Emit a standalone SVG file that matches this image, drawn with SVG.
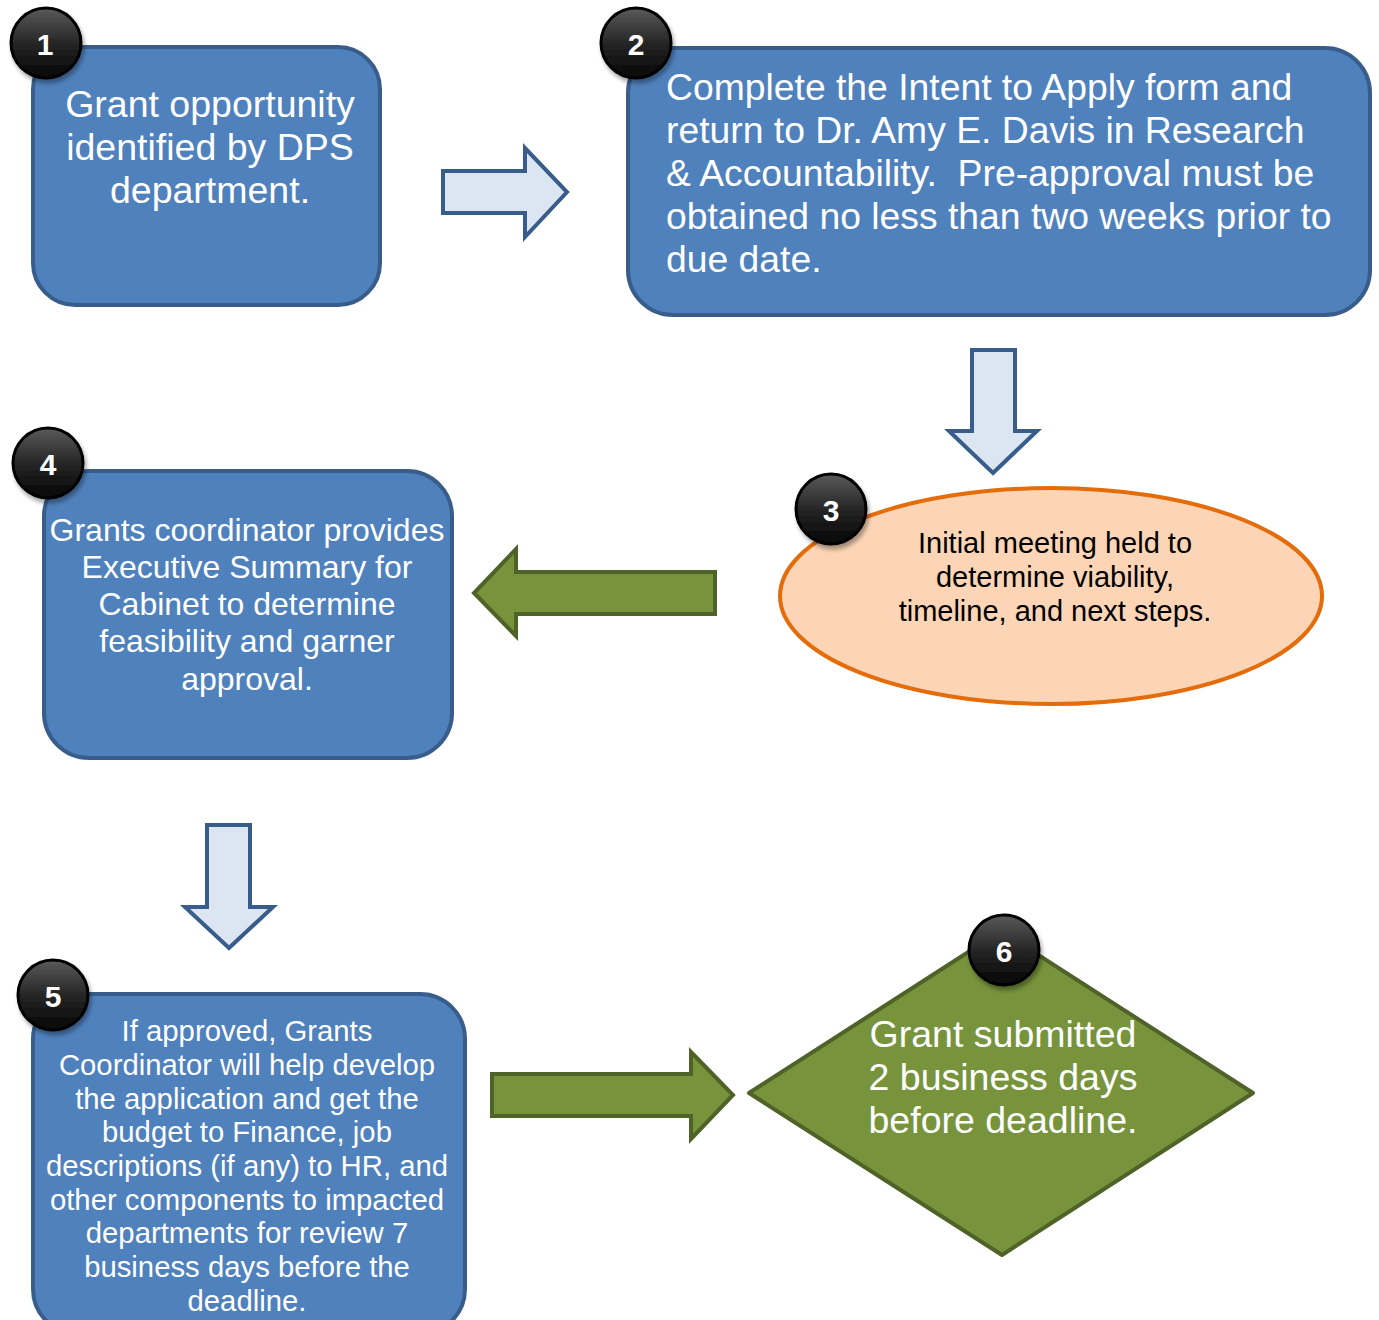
<svg xmlns="http://www.w3.org/2000/svg" width="1379" height="1320" viewBox="0 0 1379 1320">
<defs>
<linearGradient id="badgeGrad" x1="0" y1="0" x2="0" y2="1">
<stop offset="0" stop-color="#5a5a5a"/>
<stop offset="0.5" stop-color="#262626"/>
<stop offset="1" stop-color="#050505"/>
</linearGradient>
<filter id="shadow" x="-30%" y="-30%" width="160%" height="160%">
<feGaussianBlur in="SourceAlpha" stdDeviation="2"/>
<feOffset dx="2" dy="4" result="b"/>
<feComponentTransfer><feFuncA type="linear" slope="0.35"/></feComponentTransfer>
<feMerge><feMergeNode/><feMergeNode in="SourceGraphic"/></feMerge>
</filter>
<style>
.box{fill:#4f81bd;stroke:#385d8a;stroke-width:4}
.wt{fill:#ffffff;font-family:"Liberation Sans",Arial,sans-serif}
.bt{fill:#000000;font-family:"Liberation Sans",Arial,sans-serif}
.blueArrow{fill:#dce6f2;stroke:#385d8a;stroke-width:4;stroke-linejoin:miter}
.greenArrow{fill:#77933c;stroke:#4f6228;stroke-width:4;stroke-linejoin:miter}
.badge{fill:url(#badgeGrad);stroke:#000;stroke-width:3;filter:url(#shadow)}
.num{fill:#fff;font-family:"Liberation Sans",Arial,sans-serif;font-weight:bold;font-size:30px;text-anchor:middle}
</style>
</defs>
<rect width="1379" height="1320" fill="#ffffff"/>

<g id="connectors">
<polygon class="blueArrow" points="443,171 525,171 525,148 567,192 525,237 525,213 443,213"/>
<polygon class="blueArrow" points="972,350 1015,350 1015,431 1037,431 993,473 949,431 972,431"/>
<polygon class="greenArrow" points="715,572 516,572 516,549 474,593 516,636 516,614 715,614"/>
<polygon class="blueArrow" points="207,825 250,825 250,907 273,907 229,948 185,907 207,907"/>
<polygon class="greenArrow" points="492,1074 691,1074 691,1052 733,1095 691,1139 691,1116 492,1116"/>
</g>

<g id="node1">
<rect class="box" x="33" y="47" width="347" height="258" rx="42" ry="42"/>
<text class="wt" font-size="37.5" text-anchor="middle"><tspan x="210" y="117">Grant opportunity</tspan><tspan x="210" y="160">identified by DPS</tspan><tspan x="210" y="203">department.</tspan></text>
<circle class="badge" cx="46" cy="43" r="35"/>
<text class="num" x="45" y="55">1</text>
</g>

<g id="node2">
<rect class="box" x="628" y="48" width="742" height="267" rx="45" ry="45"/>
<text class="wt" font-size="37.3" xml:space="preserve"><tspan x="666" y="100">Complete the Intent to Apply form and</tspan><tspan x="666" y="143">return to Dr. Amy E. Davis in Research</tspan><tspan x="666" y="186">&amp; Accountability.  Pre-approval must be</tspan><tspan x="666" y="229">obtained no less than two weeks prior to</tspan><tspan x="666" y="272">due date.</tspan></text>
<circle class="badge" cx="636" cy="43" r="35"/>
<text class="num" x="636" y="55">2</text>
</g>

<g id="node3">
<ellipse cx="1051" cy="596" rx="271" ry="108" fill="#fbd5b5" stroke="#e46c0a" stroke-width="4"/>
<text class="bt" font-size="29" text-anchor="middle"><tspan x="1055" y="553">Initial meeting held to</tspan><tspan x="1055" y="587">determine viability,</tspan><tspan x="1055" y="621">timeline, and next steps.</tspan></text>
<circle class="badge" cx="831" cy="509" r="35"/>
<text class="num" x="831" y="521">3</text>
</g>

<g id="node4">
<rect class="box" x="44" y="471" width="408" height="287" rx="45" ry="45"/>
<text class="wt" font-size="32" text-anchor="middle"><tspan x="247" y="541">Grants coordinator provides</tspan><tspan x="247" y="578">Executive Summary for</tspan><tspan x="247" y="615">Cabinet to determine</tspan><tspan x="247" y="652">feasibility and garner</tspan><tspan x="247" y="690">approval.</tspan></text>
<circle class="badge" cx="48" cy="463" r="35"/>
<text class="num" x="48" y="475">4</text>
</g>

<g id="node5">
<rect class="box" x="33" y="994" width="432" height="340" rx="45" ry="45"/>
<text class="wt" font-size="29.3" text-anchor="middle"><tspan x="247" y="1041">If approved, Grants</tspan><tspan x="247" y="1075">Coordinator will help develop</tspan><tspan x="247" y="1109">the application and get the</tspan><tspan x="247" y="1142">budget to Finance, job</tspan><tspan x="247" y="1176">descriptions (if any) to HR, and</tspan><tspan x="247" y="1210">other components to impacted</tspan><tspan x="247" y="1243">departments for review 7</tspan><tspan x="247" y="1277">business days before the</tspan><tspan x="247" y="1311">deadline.</tspan></text>
<circle class="badge" cx="53" cy="995" r="35"/>
<text class="num" x="53" y="1007">5</text>
</g>

<g id="node6">
<polygon points="1001,931 1253,1093 1002,1255 749,1093" fill="#77933c" stroke="#4f6228" stroke-width="4" stroke-linejoin="round"/>
<text class="wt" font-size="37.5" text-anchor="middle"><tspan x="1003" y="1047">Grant submitted</tspan><tspan x="1003" y="1090">2 business days</tspan><tspan x="1003" y="1133">before deadline.</tspan></text>
<circle class="badge" cx="1004" cy="950" r="35"/>
<text class="num" x="1004" y="962">6</text>
</g>
</svg>
